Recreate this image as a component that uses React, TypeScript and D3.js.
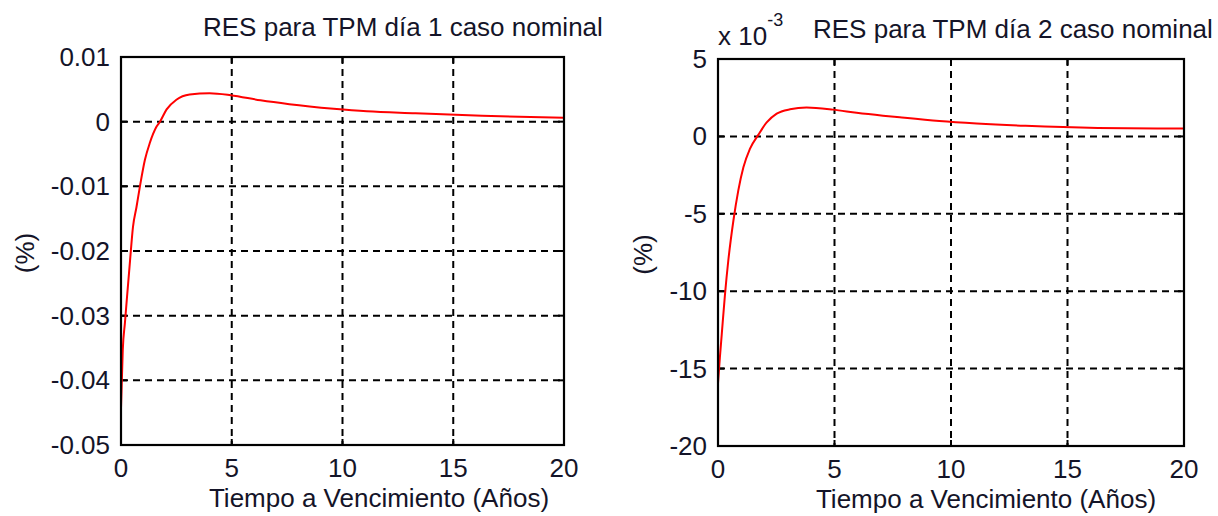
import React from "react";
import * as d3 from "d3";

// Maturity (years) and residual (%) for day 1, nominal case
const maturityDay1 = [0, 0.08, 0.18, 0.26, 0.41, 0.54, 0.7, 0.86, 1.08, 1.3, 1.6, 1.76, 2.06, 2.5, 3.1, 4.0, 4.95, 6.3, 7.6, 9.6, 11.1, 13.3, 16.3, 20];
const resDay1 = [-0.0443, -0.0353, -0.031, -0.0276, -0.0214, -0.0163, -0.0132, -0.0099, -0.0059, -0.0033, -0.0008, 0, 0.0019, 0.0034, 0.0042, 0.0044, 0.0041, 0.0033, 0.0027, 0.002, 0.0016, 0.0013, 0.0009, 0.0006];

// Maturity (years) and residual (%) for day 2, nominal case
const maturityDay2 = [0, 0.08, 0.16, 0.3, 0.44, 0.66, 0.87, 1.09, 1.37, 1.73, 2.09, 2.52, 3.09, 3.8, 4.93, 5.95, 7.08, 7.8, 9.5, 11.1, 13.2, 16.3, 20];
const resDay2 = [-0.01595, -0.0143, -0.0128, -0.0102, -0.00805, -0.00545, -0.0035, -0.002, -0.0008, 0.0001, 0.0009, 0.00147, 0.00175, 0.00186, 0.00173, 0.00153, 0.00134, 0.00123, 0.00099, 0.00083, 0.00068, 0.00055, 0.00051];

const xTicks = [0, 5, 10, 15, 20];
const yTicksDay1 = [0.01, 0, -0.01, -0.02, -0.03, -0.04, -0.05];
const yTicksDay2 = [0.005, 0, -0.005, -0.01, -0.015, -0.02];

const titleDay1 = "RES para TPM día 1 caso nominal";
const titleDay2 = "RES para TPM día 2 caso nominal";
const xLabel = "Tiempo a Vencimiento (Años)";
const yLabel = "(%)";

const FONT = "'Liberation Sans', Arial, Helvetica, sans-serif";
const TEXT = "#141428";

type PanelProps = {
  xs: number[];
  ys: number[];
  yTicks: number[];
  yDomain: [number, number];
  left: number;
  right: number;
  top: number;
  bottom: number;
  title: string;
  titleX: number;
  yLabelX: number;
  xLabelX: number;
  fmt: (v: number) => string;
  exponent?: boolean;
};

function Panel(p: PanelProps) {
  const x = d3.scaleLinear().domain([0, 20]).range([p.left, p.right]);
  const y = d3.scaleLinear().domain(p.yDomain).range([p.bottom, p.top]);
  const pts = p.xs.map((v, i) => [v, p.ys[i]] as [number, number]);
  const line = d3
    .line<[number, number]>()
    .x((d) => x(d[0]))
    .y((d) => y(d[1]))
    .curve(d3.curveMonotoneX);
  const tickLen = 6;
  const innerX = xTicks.filter((t) => t > 0 && t < 20);
  const innerY = p.yTicks.filter((t) => t > p.yDomain[0] && t < p.yDomain[1]);
  return (
    <g>
      {/* grid */}
      {innerX.map((t) => (
        <line key={"gx" + t} x1={x(t)} x2={x(t)} y1={p.top} y2={p.bottom} stroke="#000" strokeWidth={2} strokeDasharray="7,5" />
      ))}
      {innerY.map((t) => (
        <line key={"gy" + t} x1={p.left} x2={p.right} y1={y(t)} y2={y(t)} stroke="#000" strokeWidth={2} strokeDasharray="7,5" />
      ))}
      {/* inward ticks */}
      {xTicks.map((t) => (
        <g key={"tx" + t}>
          <line x1={x(t)} x2={x(t)} y1={p.bottom} y2={p.bottom - tickLen} stroke="#000" strokeWidth={2} />
          <line x1={x(t)} x2={x(t)} y1={p.top} y2={p.top + tickLen} stroke="#000" strokeWidth={2} />
        </g>
      ))}
      {p.yTicks.map((t) => (
        <g key={"ty" + t}>
          <line x1={p.left} x2={p.left + tickLen} y1={y(t)} y2={y(t)} stroke="#000" strokeWidth={2} />
          <line x1={p.right} x2={p.right - tickLen} y1={y(t)} y2={y(t)} stroke="#000" strokeWidth={2} />
        </g>
      ))}
      {/* series */}
      <path d={line(pts) || ""} fill="none" stroke="#ff0000" strokeWidth={2} />
      {/* box */}
      <rect x={p.left} y={p.top} width={p.right - p.left} height={p.bottom - p.top} fill="none" stroke="#000" strokeWidth={2.2} />
      {/* tick labels */}
      {xTicks.map((t) => (
        <text key={"lx" + t} x={x(t)} y={p.bottom + 32} textAnchor="middle" fontSize={26} fontFamily={FONT} fill={TEXT}>
          {t}
        </text>
      ))}
      {p.yTicks.map((t) => (
        <text key={"ly" + t} x={p.left - 11} y={y(t) + 9} textAnchor="end" fontSize={26} fontFamily={FONT} fill={TEXT}>
          {p.fmt(t)}
        </text>
      ))}
      {p.exponent && (
        <text x={p.left} y={p.top - 14} fontSize={26} fontFamily={FONT} fill={TEXT}>
          x 10
          <tspan dy={-19} fontSize={18}>-3</tspan>
        </text>
      )}
      <text x={p.titleX} y={p.top - 21} fontSize={26} fontFamily={FONT} fill={TEXT}>
        {p.title}
      </text>
      <text x={p.xLabelX} y={p.bottom + 62} textAnchor="middle" fontSize={26} fontFamily={FONT} fill={TEXT}>
        {xLabel}
      </text>
      <text
        transform={`translate(${p.yLabelX},${(p.top + p.bottom) / 2 + 2}) rotate(-90)`}
        textAnchor="middle"
        fontSize={26}
        fontFamily={FONT}
        fill={TEXT}
      >
        {yLabel}
      </text>
    </g>
  );
}

export default function App() {
  return (
    <svg
      width={1218}
      height={516}
      viewBox="0 0 1218 516"
      style={{ position: "absolute", left: 0, top: 0, background: "#fff" }}
    >
      <rect width={1218} height={516} fill="#fff" />
      <Panel
        xs={maturityDay1}
        ys={resDay1}
        yTicks={yTicksDay1}
        yDomain={[-0.05, 0.01]}
        left={121}
        right={564}
        top={57}
        bottom={445}
        title={titleDay1}
        titleX={203}
        yLabelX={34}
        xLabelX={379}
        fmt={(v) => (v === 0 ? "0" : d3.format(".2f")(v).replace("−", "-"))}
      />
      <Panel
        xs={maturityDay2}
        ys={resDay2}
        yTicks={yTicksDay2}
        yDomain={[-0.02, 0.005]}
        left={718}
        right={1184}
        top={59}
        bottom={446}
        title={titleDay2}
        titleX={813}
        yLabelX={652}
        xLabelX={986}
        fmt={(v) => String(Math.round(v * 1000))}
        exponent
      />
    </svg>
  );
}
